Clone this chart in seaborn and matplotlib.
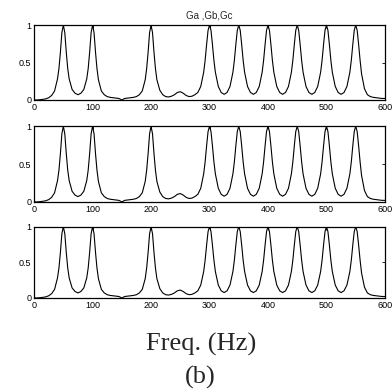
import matplotlib
matplotlib.use('Agg')
import matplotlib.pyplot as plt
import seaborn as sns

# frequency grid (Hz) and magnitude
freq = [0, 5, 10, 15, 20, 25, 30, 35,
        40, 42.5, 45, 47.5, 50, 52.5, 55, 57.5, 60,
        65, 70, 75, 80, 85,
        90, 92.5, 95, 97.5, 100, 102.5, 105, 107.5, 110,
        115, 120, 125, 130, 135, 140, 145, 150, 155, 160, 165, 170, 175, 180, 185,
        190, 192.5, 195, 197.5, 200, 202.5, 205, 207.5, 210,
        215, 220, 225, 230, 235, 240, 245, 250, 255, 260, 265, 270, 275, 280, 285,
        290, 292.5, 295, 297.5, 300,
        302.5, 305, 307.5, 310, 315, 320, 325, 330, 335, 340, 342.5, 345, 347.5, 350,
        352.5, 355, 357.5, 360, 365, 370, 375, 380, 385, 390, 392.5, 395, 397.5, 400,
        402.5, 405, 407.5, 410, 415, 420, 425, 430, 435, 440, 442.5, 445, 447.5, 450,
        452.5, 455, 457.5, 460, 465, 470, 475, 480, 485, 490, 492.5, 495, 497.5, 500,
        502.5, 505, 507.5, 510, 515, 520, 525, 530, 535, 540, 542.5, 545, 547.5, 550,
        552.5, 555, 557.5, 560, 565, 570, 575, 580, 585, 590, 595, 600]

ga = [0.0, 0.0, 0.003, 0.008, 0.015, 0.03, 0.06, 0.12,
      0.28, 0.42, 0.64, 0.9, 1.0, 0.9, 0.64, 0.42, 0.28,
      0.14, 0.09, 0.07, 0.09, 0.14,
      0.28, 0.42, 0.64, 0.9, 1.0, 0.9, 0.64, 0.42, 0.27,
      0.12, 0.07, 0.045, 0.035, 0.03, 0.025, 0.02, 0.0, 0.02, 0.025, 0.03, 0.035, 0.045, 0.07, 0.12,
      0.27, 0.42, 0.64, 0.9, 1.0, 0.9, 0.64, 0.42, 0.27,
      0.13, 0.07, 0.045, 0.04, 0.05, 0.07, 0.1, 0.11, 0.09, 0.06, 0.045, 0.05, 0.07, 0.1, 0.18,
      0.37, 0.53, 0.74, 0.93, 1.0,
      0.93, 0.74, 0.53, 0.37, 0.18, 0.1, 0.075, 0.1, 0.18, 0.37, 0.53, 0.74, 0.93, 1.0,
      0.93, 0.74, 0.53, 0.37, 0.18, 0.1, 0.075, 0.1, 0.18, 0.37, 0.53, 0.74, 0.93, 1.0,
      0.93, 0.74, 0.53, 0.37, 0.18, 0.1, 0.075, 0.1, 0.18, 0.37, 0.53, 0.74, 0.93, 1.0,
      0.93, 0.74, 0.53, 0.37, 0.18, 0.1, 0.075, 0.1, 0.18, 0.37, 0.53, 0.74, 0.93, 1.0,
      0.93, 0.74, 0.53, 0.37, 0.18, 0.1, 0.075, 0.1, 0.18, 0.37, 0.53, 0.74, 0.93, 1.0,
      0.93, 0.74, 0.53, 0.35, 0.15, 0.07, 0.045, 0.035, 0.03, 0.025, 0.02, 0.02]

# the three panels look the same in the reference
gb = list(ga)
gc = list(ga)
series = [ga, gb, gc]

xticks = [0, 100, 200, 300, 400, 500, 600]
yticks = [0, 0.5, 1]
yticklabels = ['0', '0.5', '1']

sns.set_style('white')
plt.rcParams['font.family'] = ['Liberation Sans', 'DejaVu Sans']

fig = plt.figure(figsize=(3.92, 3.92), dpi=100)

# axes boxes [left, bottom, width, height] in figure fractions
boxes = [[0.087, 0.745, 0.895, 0.191],
         [0.087, 0.485, 0.895, 0.193],
         [0.087, 0.240, 0.895, 0.182]]

for i, (box, vals) in enumerate(zip(boxes, series)):
    ax = fig.add_axes(box)
    sns.lineplot(x=freq, y=vals, ax=ax, color='black', linewidth=0.8)
    ax.set_xlim(0, 600)
    ax.set_ylim(0, 1)
    ax.set_xticks(xticks)
    ax.set_xticklabels([str(t) for t in xticks])
    ax.set_yticks(yticks)
    ax.set_yticklabels(yticklabels)
    ax.tick_params(direction='in', length=2.5, width=0.6, labelsize=6.5, pad=2,
                   top=True, right=True, colors='black')
    for s in ax.spines.values():
        s.set_visible(True)
        s.set_color('black')
        s.set_linewidth(0.9)
    if i == 0:
        ax.set_title('Ga ,Gb,Gc', fontsize=7, pad=5)

fig.text(0.512, 0.122, 'Freq. (Hz)', ha='center', va='center', fontsize=19,
         family=['Liberation Serif', 'DejaVu Serif'])
fig.text(0.512, 0.038, '(b)', ha='center', va='center', fontsize=19,
         family=['Liberation Serif', 'DejaVu Serif'])

fig.savefig('out.png', dpi=100)
